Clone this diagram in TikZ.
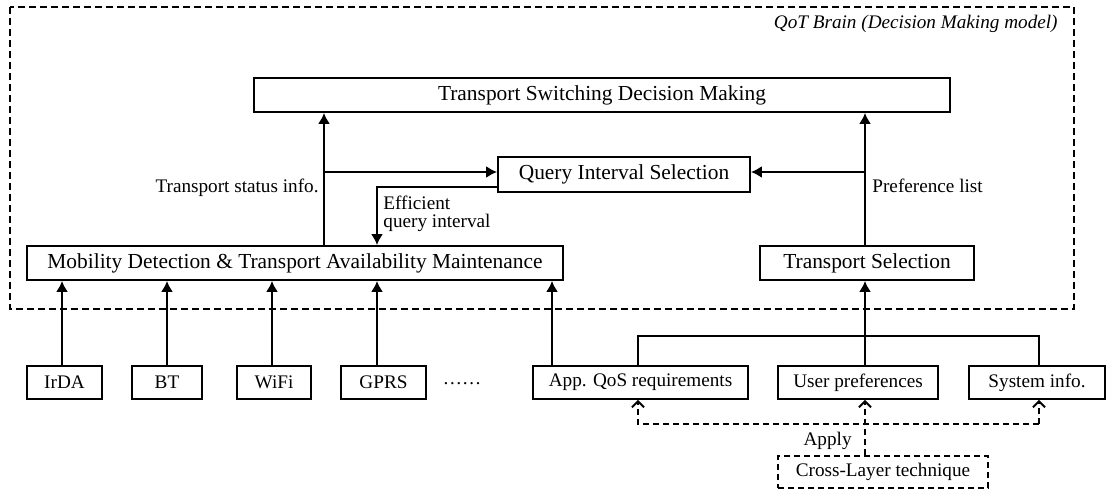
\documentclass[tikz,border=0pt]{standalone}
\usepackage{fontspec}
\setmainfont{Liberation Serif}
\usetikzlibrary{arrows.meta}
\begin{document}
\begin{tikzpicture}[x=0.5pt, y=-0.5pt, font=\fontsize{10.7}{12.8}\selectfont]
                \tikzset{ block/.style={rectangle,draw,line width=0.9pt,inner sep=0pt,minimum height=17pt,align=center},
                        input/.style={block,minimum height=16.5pt,font=\fontsize{9.6}{11.5}\selectfont},
                        arrow/.style={-{Latex[length=5.5pt,width=6pt]}, line width=1pt},
                        link/.style={line width=1pt},
                        apply/.style={-{Straight Barb[length=3pt,width=6pt]}, line width=1pt, dash pattern=on 3pt off 2pt},
                        lbl/.style={inner sep=0pt,font=\fontsize{9.6}{11.5}\selectfont}}
                \useasboundingbox (0,0) rectangle (1107,491);

                % QoT brain
                \draw[line width=0.9pt, dash pattern=on 3.5pt off 2pt] (10,7) rectangle (1074,309);
                \node[lbl, anchor=base east, font=\fontsize{9.6}{11.5}\itshape] (brain) at (1058,29) {QoT Brain (Decision Making model)};

                \node[block, minimum width=348pt] (tsdm) at (602,95) {Transport Switching Decision Making};
                \node[block, minimum width=126pt, minimum height=17.5pt] (qis) at (624,174.5) {Query Interval Selection};
                \node[block, minimum width=268pt] (mdtam) at (295,263) {Mobility Detection \& Transport Availability Maintenance};
                \node[block, minimum width=107pt] (tsel) at (867,263) {Transport Selection};

                % Inputs
                \node[input, minimum width=37.5pt] (irda) at (64.5,382.5) {IrDA};
                \node[input, minimum width=35pt] (bt) at (167,382.5) {BT};
                \node[input, minimum width=37pt] (wifi) at (274,382.5) {WiFi};
                \node[input, minimum width=42.5pt] (gprs) at (383.5,382.5) {GPRS};
                \node[lbl] (more) at (462,384) {……};
                \node[input, minimum width=107.5pt] (app) at (640.5,382.5) {App. QoS requirements};
                \node[input, minimum width=80pt] (user) at (858,382.5) {User preferences};
                \node[input, minimum width=68pt] (sys) at (1037,382.5) {System info.};
                \node[input, minimum width=105pt, minimum height=16pt, dash pattern=on 3pt off 2pt] (clt) at (883,472) {Cross-Layer technique};

                \coordinate (statx) at (324,172);
                \coordinate (prefx) at (865,172);
                \coordinate (effx) at (377,187);
                \coordinate (appup) at (552,0);
                \coordinate (appx) at (638,336);
                \coordinate (sysx) at (1039,336);
                \coordinate (applyy) at (0,424);

                % Arrows
                \draw[arrow] (mdtam.north -| statx) -- (tsdm.south -| statx);
                \draw[arrow] (statx) -- (qis.west |- statx);
                \draw[arrow] (tsel.north -| prefx) -- (tsdm.south -| prefx);
                \draw[arrow] (prefx) -- (qis.east |- prefx);
                \draw[arrow] (qis.west |- effx) -- (effx) -- (mdtam.north -| effx);
                \draw[arrow] (irda.north -| 62,0) -- (mdtam.south -| 62,0);
                \draw[arrow] (bt.north) -- (bt.north |- mdtam.south);
                \draw[arrow] (wifi.north -| 272,0) -- (mdtam.south -| 272,0);
                \draw[arrow] (gprs.north -| effx) -- (mdtam.south -| effx);
                \draw[arrow] (app.north -| appup) -- (mdtam.south -| appup);
                \draw[link] (app.north -| appx) -- (appx) -- (sysx) -- (sys.north -| sysx);
                \draw[arrow] (user.north -| prefx) -- (tsel.south -| prefx);

                % Cross-layer
                \draw[apply] (clt.north -| prefx) -- (user.south -| prefx);
                \draw[apply] (sysx |- applyy) -- (appx |- applyy) -- (app.south -| appx);
                \draw[apply] (sysx |- applyy) -- (sys.south -| sysx);

                \node[lbl, anchor=base east] (statlbl) at (319,193) {Transport status info.};
                \node[lbl, anchor=north west, align=left, font=\fontsize{9.6}{9}\selectfont] (efflbl) at (383,196) {Efficient\\query interval};
                \node[lbl, anchor=base west] (preflbl) at (872,193) {Preference list};
                \node[lbl, anchor=base east] (applylbl) at (852,445) {Apply};
            \end{tikzpicture}
\end{document}
